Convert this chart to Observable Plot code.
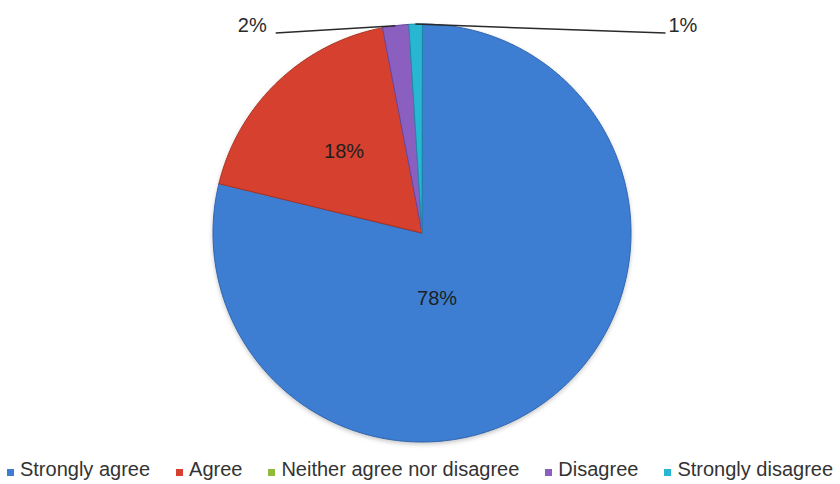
<!DOCTYPE html>
<html>
<head>
<meta charset="utf-8">
<script src="https://cdn.jsdelivr.net/npm/d3@7"></script>
<script src="https://cdn.jsdelivr.net/npm/@observablehq/plot@0.6"></script>
<style>
  html, body { margin: 0; padding: 0; background: #fff; }
  body { width: 840px; height: 484px; overflow: hidden; font-family: "Liberation Sans", Arial, sans-serif; }
  #legend > div {
    display: flex !important; justify-content: center !important; align-items: center !important;
    flex-wrap: nowrap !important; min-height: 0 !important; height: 29px; margin: 0 !important;
    font: 20px "Liberation Sans", Arial, sans-serif !important; color: #333 !important;
  }
  #legend span { display: inline-flex !important; align-items: baseline !important; margin: 0 13px !important; white-space: nowrap; }
  #legend svg { margin-right: 6px !important; }
</style>
</head>
<body>
<div id="chart"></div>
<div id="legend"></div>
<script>
// Survey answers, share of respondents (%)
const categories = ["Strongly agree", "Agree", "Neither agree nor disagree", "Disagree", "Strongly disagree"];
const shares = [78, 18, 0, 2, 1];
const shareLabels = ["78%", "18%", "0%", "2%", "1%"];

// Palette: slice fill and a darker rim for each answer
const fills = ["#3d7ed3", "#d6402f", "#8fba3c", "#8a5fc0", "#29b6d2"];
const rims  = ["#2d62ad", "#a8301f", "#6f9428", "#66439a", "#1b8aa3"];

const rows = categories.map((key, i) => ({key, share: shares[i], label: shareLabels[i], fill: fills[i], rim: rims[i]}));

// Layout of the pie in pixel units
const W = 840, H = 455;
const cx = 421.5, cy = 232.5, R = 209;
const polar = (a, r) => [cx + r * Math.sin(a), cy - r * Math.cos(a)];

// Angles start at 12 o'clock and run clockwise, in data order
const arcs = d3.pie().sort(null).value(d => d.share)(rows).filter(a => a.endAngle > a.startAngle);

// Each slice becomes a closed polygon: hub, then points along its arc
const step = Math.PI / 360;
const slicePoints = arcs.flatMap(a => {
  const n = Math.max(2, Math.ceil((a.endAngle - a.startAngle) / step));
  const pts = [{key: a.data.key, x: cx, y: cy, fill: a.data.fill, rim: a.data.rim}];
  for (let i = 0; i <= n; i++) {
    const [x, y] = polar(a.startAngle + (a.endAngle - a.startAngle) * i / n, R);
    pts.push({key: a.data.key, x, y, fill: a.data.fill, rim: a.data.rim});
  }
  return pts;
});

// Large slices carry their label inside; the dominant one sits under the hub
const insideSpot = {"Strongly agree": {angle: 167 * Math.PI / 180, radius: 0.32}};
const inside = arcs.filter(a => a.data.share >= 5).map(a => {
  const spot = insideSpot[a.data.key] || {angle: (a.startAngle + a.endAngle) / 2, radius: 0.54};
  const [x, y] = polar(spot.angle, spot.radius * R);
  return {x, y, text: a.data.label};
});

// Thin slices get a leader line out to a label above the pie
const reach = {"Disagree": -0.70, "Strongly disagree": 1.165};
const leaderY = cy - 0.957 * R;
const outside = arcs.filter(a => a.data.share < 5).map(a => {
  const [x1, y1] = polar((a.startAngle + a.endAngle) / 2, R);
  const x2 = cx + reach[a.data.key] * R;
  return {x1, y1, x2, y2: leaderY, text: a.data.label, side: x2 < cx ? "left" : "right"};
});

const font = "'Liberation Sans', Arial, Helvetica, sans-serif";

const chart = Plot.plot({
  width: W,
  height: H,
  margin: 0,
  x: {domain: [0, W], range: [0, W], axis: null},
  y: {domain: [0, H], range: [0, H], axis: null},
  color: {type: "identity"},
  style: {fontFamily: font, background: "transparent", overflow: "visible"},
  marks: [
    Plot.line(slicePoints, {x: "x", y: "y", z: "key", fill: "fill", stroke: "rim", strokeWidth: 1, curve: "linear-closed"}),
    Plot.link(outside, {x1: "x1", y1: "y1", x2: "x2", y2: "y2", stroke: "#2a2a2a", strokeWidth: 1.5}),
    Plot.text(inside, {x: "x", y: "y", text: "text", fontSize: 20, fill: "#1e1e1e"}),
    Plot.text(outside.filter(d => d.side === "left"), {x: "x2", y: "y2", text: "text", fontSize: 20, fill: "#2a2a2a", textAnchor: "end", dx: -9, dy: -7}),
    Plot.text(outside.filter(d => d.side === "right"), {x: "x2", y: "y2", text: "text", fontSize: 20, fill: "#2a2a2a", textAnchor: "start", dx: 3, dy: -7})
  ]
});

const sliceGroup = chart.querySelector('g[aria-label="line"]');
if (sliceGroup) sliceGroup.style.filter = "drop-shadow(0px 2px 2px rgba(0,0,0,0.22))";
document.getElementById("chart").appendChild(chart);

const legend = Plot.legend({
  color: {domain: categories, range: fills},
  legend: "swatches",
  swatchSize: 7,
  className: "lg"
});
document.getElementById("legend").appendChild(legend);
</script>
</body>
</html>
